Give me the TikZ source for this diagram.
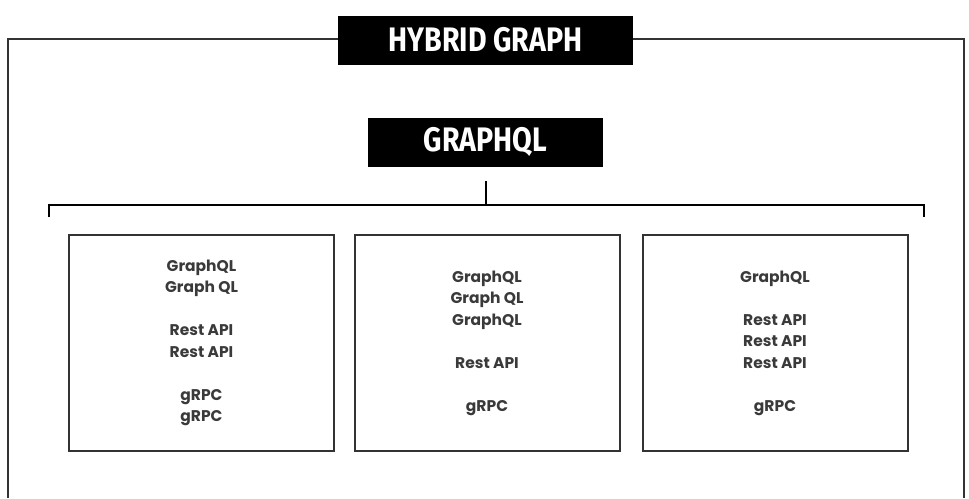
\documentclass[tikz,border=0pt]{standalone}
\usepackage{fontspec}
\usepackage{xcolor}
\newfontfamily\headfont[FakeStretch=0.84]{Fira Sans}
\newfontfamily\itemfont{Poppins}
\definecolor{framegray}{HTML}{333333}
\definecolor{itemgray}{HTML}{3A3A3A}

\tikzset{
  heading/.style={fill=black, text=white, minimum width=295pt, minimum height=49pt,
    inner sep=0pt, font=\headfont\bfseries\fontsize{34}{34}\selectfont},
  stackbox/.style={draw=framegray, line width=2pt, minimum width=265pt, minimum height=216pt,
    align=center, inner sep=0pt, text=itemgray,
    font=\itemfont\bfseries\fontsize{15.5}{21.5}\selectfont},
}

\begin{document}
\begin{tikzpicture}[x=1pt,y=-1pt]
\useasboundingbox (0,0) rectangle (969,498);

%%%%%%%%%%%%%%%%%%%% outer frame, open at the bottom %%%%%%%%%%%%%%%%%%%%
\draw[framegray, line width=2pt] (8,498) -- (8,39) -- (964,39) -- (964,498);

\node[heading] (hybrid) at (485.5,40) {HYBRID GRAPH};
\node[heading, minimum width=235pt] (gql) at (485.5,142) {GRAPHQL};

%%%%%%%%%%%%%%%%%%%% bracket under GRAPHQL %%%%%%%%%%%%%%%%%%%%
\coordinate (brL) at (49,217);
\coordinate (brR) at (924,217);
\coordinate (brTop) at (486,181);
\coordinate (brMid) at (486,205);
\draw[line width=2.5pt] (brL) -- ++(0,-12) -| (brR);
\draw[line width=2pt] (brTop) -- (brMid);

%%%%%%%%%%%%%%%%%%%% the three stacks %%%%%%%%%%%%%%%%%%%%
\node[stackbox] (stackA) at (201.5,343) {GraphQL\\Graph QL\\[21.5pt]Rest API\\Rest API\\[21.5pt]gRPC\\gRPC};
\node[stackbox] (stackB) at (487,343) {GraphQL\\Graph QL\\GraphQL\\[21.5pt]Rest API\\[21.5pt]gRPC};
\node[stackbox] (stackC) at (775,343) {GraphQL\\[21.5pt]Rest API\\Rest API\\Rest API\\[21.5pt]gRPC};

\end{tikzpicture}
\end{document}
